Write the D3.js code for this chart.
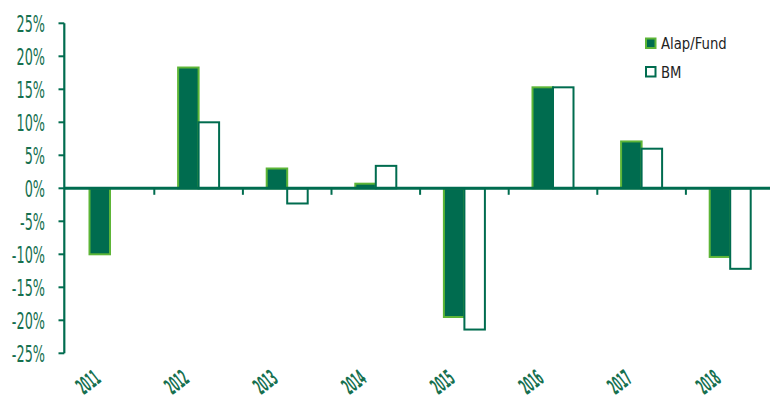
<!DOCTYPE html>
<html>
<head>
<meta charset="utf-8">
<title>Alap/Fund vs BM</title>
<script src="https://d3js.org/d3.v7.min.js"></script>
<style>
  body { margin: 0; background: #fff; }
  text { font-family: 'DejaVu Sans Condensed', 'DejaVu Sans', sans-serif; fill: #16704f; }
</style>
</head>
<body>
<svg id="chart" width="770" height="401"></svg>
<script>
// data
const years = ["2011", "2012", "2013", "2014", "2015", "2016", "2017", "2018"];
const fund = [-10.0, 18.3, 3.0, 0.7, -19.5, 15.3, 7.1, -10.4];
const bm = [null, 10.0, -2.3, 3.4, -21.4, 15.3, 6.0, -12.2];
const yTicks = [25, 20, 15, 10, 5, 0, -5, -10, -15, -20, -25];
const seriesNames = ["Alap/Fund", "BM"];

const dark = "#006c4f", light = "#5db537";
const svg = d3.select("#chart");

const x = d3.scaleBand().domain(years).range([65.7, 774.5]);
const x1 = d3.scaleBand().domain(["fund", "bm"]).range([x.bandwidth() / 2 - 20.5, x.bandwidth() / 2 + 20.5]);
const y = d3.scaleLinear().domain([-25, 25]).range([353.3, 23.3]);

const rows = years.map((yr, i) => ({ yr, fund: fund[i], bm: bm[i] }));

// bars
const g = svg.append("g");
rows.forEach(r => {
  ["fund", "bm"].forEach(k => {
    const v = r[k];
    if (v == null) return;
    g.append("rect")
      .attr("x", x(r.yr) + x1(k))
      .attr("width", x1.bandwidth())
      .attr("y", y(Math.max(0, v)))
      .attr("height", Math.abs(y(v) - y(0)))
      .attr("fill", k === "fund" ? dark : "#fff")
      .attr("stroke", k === "fund" ? light : dark)
      .attr("stroke-width", 2);
  });
});

// y axis
svg.append("line").attr("x1", 64.3).attr("x2", 64.3).attr("y1", y(25)).attr("y2", y(-25))
  .attr("stroke", dark).attr("stroke-width", 2.2);
yTicks.forEach(t => {
  svg.append("line").attr("x1", 58.5).attr("x2", 64.3).attr("y1", y(t)).attr("y2", y(t))
    .attr("stroke", dark).attr("stroke-width", 2);
  svg.append("text")
    .attr("transform", `translate(45,${y(t)}) scale(0.62,1)`)
    .attr("text-anchor", "end").attr("dy", "0.36em")
    .attr("font-size", 23)
    .text(t + "%");
});

// zero line with category ticks
svg.append("line").attr("x1", 64.3).attr("x2", 770).attr("y1", y(0)).attr("y2", y(0))
  .attr("stroke", dark).attr("stroke-width", 3);
years.slice(1).forEach(yr => {
  svg.append("line").attr("x1", x(yr)).attr("x2", x(yr)).attr("y1", y(0)).attr("y2", y(0) + 6.5)
    .attr("stroke", dark).attr("stroke-width", 2);
});

// x labels
years.forEach(yr => {
  const cx = x(yr) + x.bandwidth() / 2;
  svg.append("text")
    .attr("transform", `translate(${cx - 22},${382}) rotate(-38) scale(0.42,1)`)
    .attr("text-anchor", "middle").attr("dy", "0.36em")
    .attr("font-size", 22).attr("font-weight", "bold")
    .text(yr);
});

// legend
const leg = svg.append("g");
seriesNames.forEach((name, i) => {
  const ly = 38.5 + i * 28.5;
  leg.append("rect").attr("x", 646).attr("y", ly).attr("width", 9.5).attr("height", 9.5)
    .attr("fill", i === 0 ? dark : "#fff")
    .attr("stroke", i === 0 ? light : dark).attr("stroke-width", 2);
  leg.append("text")
    .attr("transform", `translate(661,${ly + 10.5}) scale(0.92,1)`)
    .attr("font-size", 16).style("fill", "#222")
    .text(name);
});
</script>
</body>
</html>
